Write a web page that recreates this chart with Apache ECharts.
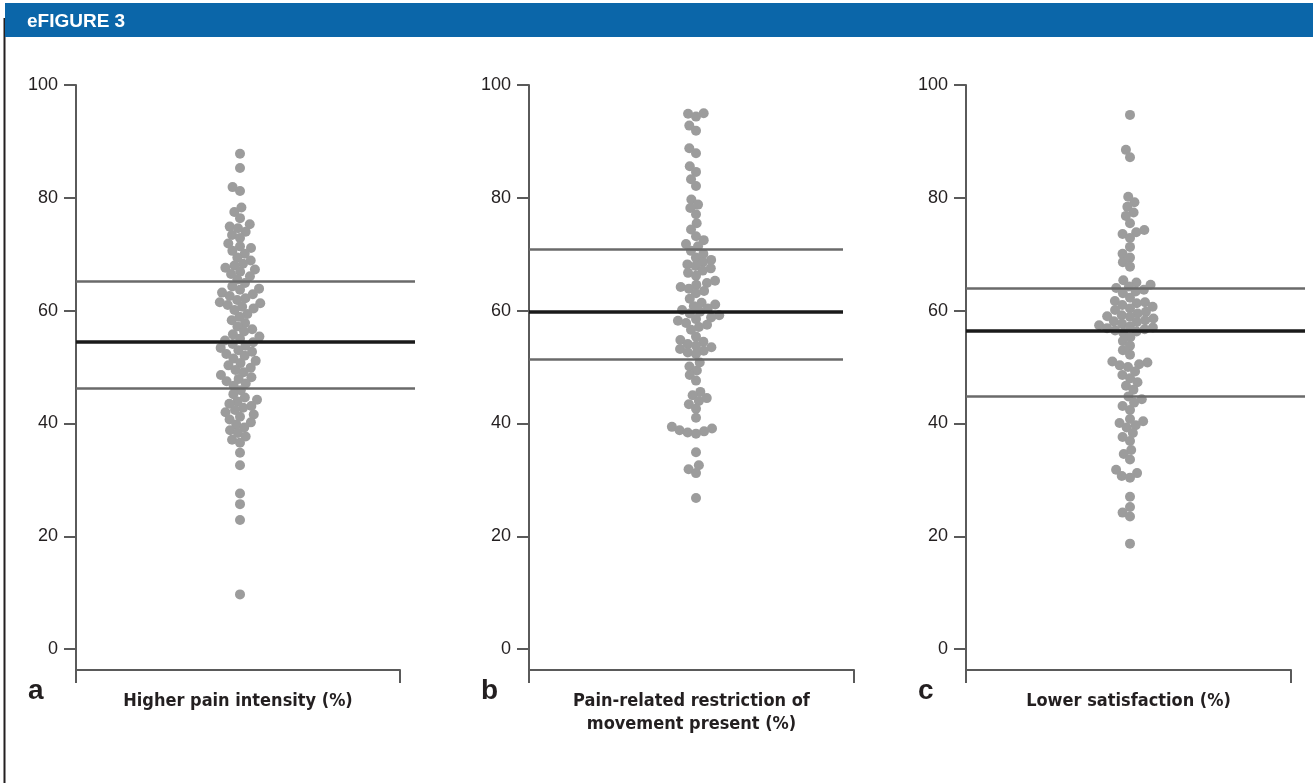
<!DOCTYPE html>
<html>
<head>
<meta charset="utf-8">
<script src="https://cdn.jsdelivr.net/npm/echarts@6/dist/echarts.min.js"></script>
<style>
html,body{margin:0;padding:0;background:#fff;}
#chart{width:1313px;height:783px;}
</style>
</head>
<body>
<div id="chart"></div>
<script>
// ---------- data ----------
const TICK_VALUES = [0, 20, 40, 60, 80, 100];
const PANEL_LETTERS = ['a', 'b', 'c'];
const PANEL_TITLES = [
  'Higher pain intensity (%)',
  'Pain-related restriction of\nmovement present (%)',
  'Lower satisfaction (%)'
];
const FIGURE_TITLE = 'eFIGURE 3';

const painIntensity = [
  87.8, 85.3, 81.9, 81.2,
  78.3, 77.5, 76.4,
  75.3, 74.9, 74.6, 74.0, 73.4, 72.9,
  71.9, 71.4, 71.1, 70.6, 70.1,
  69.4, 68.9, 68.3, 68.0, 67.6, 67.3, 66.9, 66.5, 66.1,
  65.5, 64.9,
  64.3, 63.9, 63.7, 63.2, 62.9, 62.6, 62.2, 61.9, 61.5, 61.3, 61.0, 60.7, 60.4, 60.1,
  59.4, 58.9, 58.3, 57.8, 57.2, 56.7, 56.3,
  55.8, 55.4, 55.0, 54.7, 54.4, 54.1, 53.8, 53.4, 53.0, 52.7, 52.3, 52.0,
  51.5, 51.1, 50.7, 50.3, 49.9, 49.5, 49.1,
  48.6, 48.2, 47.9, 47.5, 47.1, 46.7,
  45.9, 45.2,
  44.6, 44.2, 43.9, 43.5, 43.1, 42.8, 42.4, 42.0, 41.6, 41.2,
  40.7, 40.2, 39.8, 39.3, 38.8, 38.3,
  37.7, 37.1, 36.6,
  34.8, 32.6, 27.6, 25.7, 22.9, 9.7
];
const restrictionOfMovement = [
  95.0, 94.9, 94.4,
  92.8, 91.9,
  88.8, 87.9,
  85.6, 84.6, 83.3, 82.1,
  79.7, 78.8, 78.2, 77.1,
  75.5, 74.4,
  73.2, 72.5, 71.8, 71.4,
  70.6, 70.1, 69.4, 69.0,
  68.6, 68.2, 67.9, 67.5, 67.1, 66.7, 66.2,
  65.3, 64.9, 64.6, 64.2, 63.9, 63.5, 63.1,
  62.1, 61.4, 61.1, 60.8, 60.4, 60.1, 59.8, 59.5, 59.2, 58.8, 58.5, 58.2, 57.8, 57.5, 57.1, 56.6,
  55.4, 54.8, 54.5, 54.1, 53.8, 53.5, 53.2, 52.9, 52.6, 52.3,
  50.8, 50.1, 49.4, 48.6, 47.6,
  45.6, 45.0, 44.5, 44.0, 43.4, 42.6,
  41.0,
  39.4, 39.1, 38.8, 38.6, 38.4, 38.2,
  34.9, 32.6, 31.9, 31.2, 26.8
];
const lowerSatisfaction = [
  94.7,
  88.5, 87.2,
  80.2, 79.2, 78.4, 77.4, 76.8,
  75.5, 74.3, 73.9, 73.6, 72.9,
  71.3, 70.1, 69.4, 68.6, 67.8,
  65.4, 65.0, 64.6, 64.3, 64.0, 63.7, 63.4, 63.1,
  62.3, 61.7, 61.5, 61.3, 61.0, 60.7, 60.4, 60.1, 59.8, 59.5, 59.2, 59.0, 58.9, 58.6, 58.3, 58.1, 58.0, 57.7, 57.4, 57.2, 57.0, 56.9, 56.7, 56.5, 56.3, 56.1,
  55.3, 54.6, 53.8, 53.0, 52.2,
  51.0, 50.8, 50.5, 50.3, 50.0,
  49.2, 48.6, 48.0, 47.3, 46.7, 46.0,
  44.8, 44.3, 43.7, 43.1, 42.4,
  40.8, 40.4, 40.1, 39.7, 39.3,
  38.3, 37.6, 36.9,
  35.3, 34.6, 33.6,
  31.8, 31.2, 30.7, 30.4,
  27.0, 25.2, 24.2, 23.5,
  18.7
];
// [lower quartile, median, upper quartile]
const painIntensityLines = [46.3, 54.4, 65.2];
const restrictionLines = [51.3, 59.8, 70.9];
const satisfactionLines = [44.9, 56.4, 63.9];

const PANEL_VALUES = [painIntensity, restrictionOfMovement, lowerSatisfaction];
const PANEL_LINES = [painIntensityLines, restrictionLines, satisfactionLines];

// ---------- layout (pixels) ----------
const PLOT_TOP = 85;
const PLOT_HEIGHT = 585;
const Y_MIN = -3.7, Y_MAX = 100;
const LAYOUT = [
  { axisX: 76,  lineEnd: 415,  bracketEnd: 400,  center: 240 },
  { axisX: 529, lineEnd: 843,  bracketEnd: 854,  center: 696 },
  { axisX: 966, lineEnd: 1305, bracketEnd: 1291, center: 1130 }
];
const DOT_SIZE = 10;
const DOT_SPACING = 8.4;

const TEXT_COLOR = '#231f20';
const AXIS_COLOR = '#5a5a5a';
const NARROW = "'Liberation Sans Narrow', 'DejaVu Sans Condensed', 'Liberation Sans', sans-serif";
const SANS = "'Liberation Sans', Arial, sans-serif";

// beeswarm horizontal offsets (pixels) computed from the values
function swarmOffsets(values, pxPerUnit, d) {
  const order = values.map((v, i) => i).sort((a, b) => values[a] - values[b]);
  const placed = [];
  const offs = new Array(values.length).fill(0);
  for (const i of order) {
    const y = values[i] * pxPerUnit;
    const cands = [0];
    for (const p of placed) {
      const dy = y - p.y;
      if (Math.abs(dy) < d) {
        const dx = Math.sqrt(d * d - dy * dy);
        cands.push(p.x + dx, p.x - dx);
      }
    }
    cands.sort((a, b) => Math.abs(a) - Math.abs(b) || a - b);
    let chosen = 0;
    for (const c of cands) {
      let ok = true;
      for (const p of placed) {
        const dx = c - p.x, dy = y - p.y;
        if (dx * dx + dy * dy < d * d - 0.01) { ok = false; break; }
      }
      if (ok) { chosen = c; break; }
    }
    placed.push({ x: chosen, y });
    offs[i] = chosen;
  }
  return offs;
}

const pxPerUnit = PLOT_HEIGHT / (Y_MAX - Y_MIN);

const grid = [], xAxis = [], yAxis = [], series = [], title = [];

title.push({
  text: FIGURE_TITLE, left: 27, top: 12, padding: 0,
  textStyle: { color: '#ffffff', fontSize: 19, fontWeight: 'bold', fontFamily: SANS }
});

LAYOUT.forEach((L, i) => {
  const wA = L.lineEnd - L.axisX;
  const wB = L.bracketEnd - L.axisX;
  grid.push({ left: L.axisX, top: PLOT_TOP, width: wA, height: PLOT_HEIGHT, containLabel: false });
  grid.push({ left: L.axisX, top: PLOT_TOP, width: wB, height: PLOT_HEIGHT, containLabel: false });

  xAxis.push({ gridIndex: 2 * i, type: 'value', min: 0, max: wA, show: false });
  xAxis.push({
    gridIndex: 2 * i + 1, type: 'value', min: 0, max: 1,
    axisLine: { show: true, lineStyle: { color: AXIS_COLOR, width: 2 } },
    axisTick: { show: true, customValues: [0, 1], length: 13, inside: false, lineStyle: { color: AXIS_COLOR, width: 2 } },
    axisLabel: { show: false },
    splitLine: { show: false },
    name: PANEL_TITLES[i], nameLocation: 'middle', nameGap: 20,
    nameTextStyle: {
      fontSize: 18, fontWeight: 'bold', fontFamily: NARROW, color: TEXT_COLOR,
      lineHeight: 23, verticalAlign: 'top', align: 'center'
    }
  });

  yAxis.push({
    gridIndex: 2 * i, type: 'value', min: Y_MIN, max: Y_MAX,
    axisLine: { show: true, lineStyle: { color: AXIS_COLOR, width: 2 } },
    axisTick: { show: true, customValues: TICK_VALUES, length: 12, inside: false, lineStyle: { color: AXIS_COLOR, width: 2 } },
    axisLabel: { show: true, customValues: TICK_VALUES, margin: 18, fontSize: 18, color: TEXT_COLOR, fontFamily: SANS },
    splitLine: { show: false }
  });
  yAxis.push({ gridIndex: 2 * i + 1, type: 'value', min: 0, max: 1, show: false });

  const vals = PANEL_VALUES[i];
  const offs = swarmOffsets(vals, pxPerUnit, DOT_SPACING);
  const base = L.center - L.axisX;
  const lines = PANEL_LINES[i];
  series.push({
    type: 'scatter',
    xAxisIndex: 2 * i, yAxisIndex: 2 * i,
    data: vals.map((v, k) => [base + offs[k], v]),
    symbol: 'circle', symbolSize: DOT_SIZE,
    itemStyle: { color: '#9c9c9c', opacity: 1 },
    silent: true,
    markLine: {
      silent: true, symbol: ['none', 'none'], label: { show: false },
      animation: false,
      data: [
        { yAxis: lines[0], lineStyle: { color: '#6a6a6a', width: 2.5, type: 'solid' } },
        { yAxis: lines[1], lineStyle: { color: '#1a1a1a', width: 3.5, type: 'solid' } },
        { yAxis: lines[2], lineStyle: { color: '#6a6a6a', width: 2.5, type: 'solid' } }
      ]
    }
  });

  title.push({
    text: PANEL_LETTERS[i], left: L.axisX - 48, top: 677, padding: 0,
    textStyle: { color: TEXT_COLOR, fontSize: 28, fontWeight: 'bold', fontFamily: SANS }
  });
});

const chart = echarts.init(document.getElementById('chart'), null, { renderer: 'canvas' });
chart.setOption({
  animation: false,
  backgroundColor: '#ffffff',
  graphic: [
    { type: 'line', z: 0, shape: { x1: 4.5, y1: 18, x2: 4.5, y2: 783 }, style: { stroke: TEXT_COLOR, lineWidth: 2 } },
    { type: 'rect', z: 1, shape: { x: 5, y: 3, width: 1308, height: 34 }, style: { fill: '#0b66a9' } }
  ],
  title, grid, xAxis, yAxis, series
});
</script>
</body>
</html>
